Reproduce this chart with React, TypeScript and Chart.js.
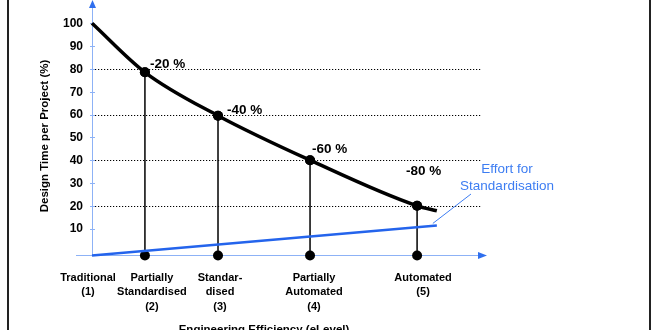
import React, { useEffect, useRef } from "react";
import { Chart, registerables } from "chart.js";

Chart.register(...registerables);

// ---- data ----
const levelLabels: string[][] = [
  ["Traditional", "(1)"],
  ["Partially", "Standardised", "(2)"],
  ["Standar-", "dised", "(3)"],
  ["Partially", "Automated", "(4)"],
  ["Automated", "(5)"],
];
const levelPos = [0, 13.4, 31.9, 55.2, 82.3]; // position along efficiency axis (0..100)
const designTime = [100, 78.5, 59.5, 40, 20]; // design time per project (%)
const curveEndPos = 87.3;
const curveEndValue = 17.8;
const reductionLabels = ["", "-20 %", "-40 %", "-60 %", "-80 %"];
const effortPos = [0, 87.3];
const effortValue = [-1.8, 11.4];
const gridValues = [80, 60, 40, 20];
const gridEndPos = 98.7;
const yTicks = [10, 20, 30, 40, 50, 60, 70, 80, 90, 100];
const yMin = -2;
const yMax = 108;

// ---- styles ----
const FONT = "'Liberation Sans', Arial, Helvetica, sans-serif";
const AXIS_BLUE = "#8db2f6";
const ARROW_BLUE = "#2f6fee";
const LINE_BLUE = "#2464ec";
const TEXT_BLUE = "#3d7df2";
const labelDx = [-4, 7, 2, 4, 6];
const reductionOffsets = [
  [0, 0],
  [5, -8],
  [9, -5],
  [2, -11],
  [-11, -35],
];

const decorPlugin = {
  id: "decor",
  beforeDatasetsDraw(chart: any) {
    const { ctx, scales } = chart;
    const xs = scales.x;
    const ys = scales.y;
    ctx.save();
    // dotted grid lines
    ctx.strokeStyle = "#000";
    ctx.lineWidth = 1.2;
    ctx.setLineDash([1.2, 1.8]);
    gridValues.forEach((v) => {
      const y = Math.round(ys.getPixelForValue(v)) + 0.5;
      ctx.beginPath();
      ctx.moveTo(xs.getPixelForValue(0), y);
      ctx.lineTo(xs.getPixelForValue(gridEndPos), y);
      ctx.stroke();
    });
    ctx.setLineDash([]);
    // axes
    const x0 = xs.getPixelForValue(0);
    const yb = ys.getPixelForValue(yMin);
    ctx.strokeStyle = AXIS_BLUE;
    ctx.lineWidth = 1;
    ctx.beginPath();
    ctx.moveTo(x0 + 0.5, yb);
    ctx.lineTo(x0 + 0.5, 6);
    ctx.stroke();
    ctx.beginPath();
    ctx.moveTo(x0 - 16, yb - 0.5);
    ctx.lineTo(xs.right - 7, yb - 0.5);
    ctx.stroke();
    // ticks
    yTicks.forEach((t) => {
      const y = Math.round(ys.getPixelForValue(t)) + 0.5;
      ctx.beginPath();
      ctx.moveTo(x0 - 2, y);
      ctx.lineTo(x0 + 3, y);
      ctx.stroke();
    });
    // arrows
    ctx.fillStyle = ARROW_BLUE;
    ctx.beginPath();
    ctx.moveTo(x0 + 0.5, 0);
    ctx.lineTo(x0 + 4, 8);
    ctx.lineTo(x0 - 3, 8);
    ctx.closePath();
    ctx.fill();
    ctx.beginPath();
    ctx.moveTo(xs.right, yb - 0.5);
    ctx.lineTo(xs.right - 9, yb - 4);
    ctx.lineTo(xs.right - 9, yb + 3);
    ctx.closePath();
    ctx.fill();
    ctx.restore();
  },
  afterDraw(chart: any) {
    const { ctx, scales } = chart;
    const xs = scales.x;
    const ys = scales.y;
    ctx.save();
    // frame
    ctx.fillStyle = "#222";
    ctx.fillRect(7, 0, 2, 330);
    ctx.fillRect(649, 0, 2, 330);
    // y tick labels
    ctx.fillStyle = "#000";
    ctx.font = `bold 12px ${FONT}`;
    ctx.textAlign = "right";
    ctx.textBaseline = "middle";
    yTicks.forEach((t) => {
      ctx.fillText(String(t), 83, ys.getPixelForValue(t) + 0.5);
    });
    // category labels
    ctx.font = `bold 11px ${FONT}`;
    ctx.textAlign = "center";
    ctx.textBaseline = "alphabetic";
    levelLabels.forEach((lines, i) => {
      const x = xs.getPixelForValue(levelPos[i]) + labelDx[i];
      lines.forEach((ln, j) => ctx.fillText(ln, x, 280.5 + j * 14.5));
    });
    // reduction labels
    ctx.font = `bold 13.5px ${FONT}`;
    ctx.textAlign = "left";
    ctx.textBaseline = "middle";
    reductionLabels.forEach((lab, i) => {
      if (!lab) return;
      const x = xs.getPixelForValue(levelPos[i]) + reductionOffsets[i][0];
      const y = ys.getPixelForValue(designTime[i]) + reductionOffsets[i][1];
      ctx.fillText(lab, x, y);
    });
    // axis titles
    ctx.font = `bold 11.5px ${FONT}`;
    ctx.textAlign = "center";
    ctx.textBaseline = "alphabetic";
    ctx.fillText("Engineering Efficiency (eLevel)", 264, 333);
    ctx.save();
    ctx.translate(47.5, 136);
    ctx.rotate(-Math.PI / 2);
    ctx.fillText("Design Time per Project (%)", 0, 0);
    ctx.restore();
    // effort annotation
    ctx.fillStyle = TEXT_BLUE;
    ctx.font = `13.5px ${FONT}`;
    ctx.textAlign = "center";
    ctx.textBaseline = "middle";
    ctx.fillText("Effort for", 507, 169);
    ctx.fillText("Standardisation", 507, 186);
    ctx.strokeStyle = TEXT_BLUE;
    ctx.lineWidth = 1;
    const ex = xs.getPixelForValue(effortPos[1]);
    const ey = ys.getPixelForValue(effortValue[1]);
    ctx.beginPath();
    ctx.moveTo(471, 194);
    ctx.lineTo(ex - 4, ey - 2);
    ctx.stroke();
    ctx.restore();
  },
};

export default function App() {
  const ref = useRef<HTMLCanvasElement>(null);
  useEffect(() => {
    const canvas = ref.current!;
    const curveData = levelPos.map((x, i) => ({ x, y: designTime[i] }));
    curveData.push({ x: curveEndPos, y: curveEndValue });
    const stems = levelPos.slice(1).map((x, k) => ({
      data: [
        { x, y: yMin + 0.2 },
        { x, y: designTime[k + 1] },
      ],
      borderColor: "#000",
      backgroundColor: "#000",
      borderWidth: 1.5,
      pointRadius: 5,
      pointHoverRadius: 5,
      pointBorderWidth: 0,
      showLine: true,
      clip: false as any,
      order: 3,
    }));
    const chart = new Chart(canvas, {
      type: "scatter",
      data: {
        datasets: [
          {
            data: curveData,
            borderColor: "#000",
            backgroundColor: "#000",
            borderWidth: 3.5,
            showLine: true,
            cubicInterpolationMode: "monotone",
            pointRadius: curveData.map((_, i) => (i === 0 || i === curveData.length - 1 ? 0 : 5)),
            pointBorderWidth: 0,
            clip: false as any,
            order: 1,
          } as any,
          {
            data: effortPos.map((x, i) => ({ x, y: effortValue[i] })),
            borderColor: LINE_BLUE,
            backgroundColor: LINE_BLUE,
            borderWidth: 2.5,
            showLine: true,
            pointRadius: 0,
            clip: false as any,
            order: 2,
          } as any,
          ...(stems as any),
        ],
      },
      options: {
        animation: false,
        responsive: false,
        devicePixelRatio: 1,
        layout: { padding: { left: 92, right: 173, top: 0, bottom: 74 } },
        scales: {
          x: { type: "linear", min: 0, max: 100, display: false },
          y: { type: "linear", min: yMin, max: yMax, display: false },
        },
        plugins: { legend: { display: false }, tooltip: { enabled: false } },
        events: [],
      },
      plugins: [decorPlugin],
    });
    return () => chart.destroy();
  }, []);
  return (
    <canvas
      ref={ref}
      width={660}
      height={330}
      style={{ position: "fixed", left: 0, top: 0, width: 660, height: 330, background: "#fff" }}
    />
  );
}
